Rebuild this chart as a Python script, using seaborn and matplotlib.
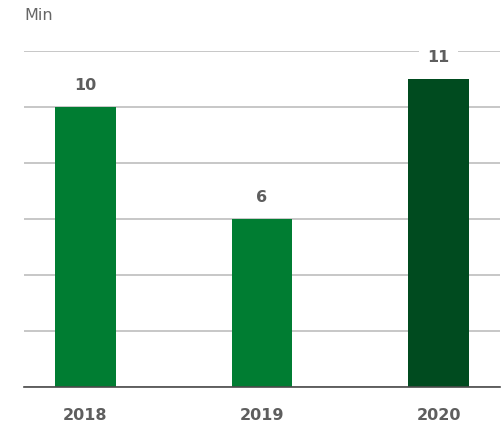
import matplotlib
matplotlib.use("Agg")
import matplotlib.pyplot as plt
import seaborn as sns
import pandas as pd

years = ["2018", "2019", "2020"]
minutes = [10, 6, 11]
bar_colors = ["#007D32", "#007D32", "#004B1F"]

sns.set_theme(style="white")
plt.rcParams["font.family"] = ["DejaVu Sans"]

df = pd.DataFrame({"year": years, "minutes": minutes})

fig = plt.figure(figsize=(5.02, 4.25), dpi=100)
ax = fig.add_axes([24 / 502, 1 - 387 / 425, 476 / 502, 336 / 425])

sns.barplot(data=df, x="year", y="minutes", hue="year", palette=bar_colors,
            width=0.345, legend=False, ax=ax, saturation=1, zorder=2, linewidth=0)

ax.set_xlim(-0.348, 2.348)
ax.set_ylim(0, 12)
ax.set_yticks(range(0, 13, 2))
ax.yaxis.grid(True, color="#BDBDBD", linewidth=1.2, zorder=0)
ax.set_axisbelow(True)
ax.tick_params(axis="y", left=False, labelleft=False)
ax.tick_params(axis="x", bottom=False, pad=9, labelsize=11.5, labelcolor="#5E5E5E")
for lbl in ax.get_xticklabels():
    lbl.set_fontweight("bold")
for side in ["left", "right", "top"]:
    ax.spines[side].set_visible(False)
ax.spines["bottom"].set_color("#4A4A4A")
ax.spines["bottom"].set_linewidth(1.2)
ax.spines["bottom"].set_zorder(3)
ax.set_xlabel("")
ax.set_ylabel("")

for i, v in enumerate(minutes):
    ax.annotate(str(v), xy=(i, v), xytext=(0, 22), textcoords="offset pixels",
                ha="center", va="center", fontsize=11.5, fontweight="bold", color="#5E5E5E",
                bbox=dict(boxstyle="square,pad=0.5", fc="white", ec="none"), zorder=4)

fig.text(24 / 502, 1 - 15 / 425, "Min", ha="left", va="center", fontsize=11.5, color="#666666")

fig.savefig("out.png", dpi=100, facecolor="white")
